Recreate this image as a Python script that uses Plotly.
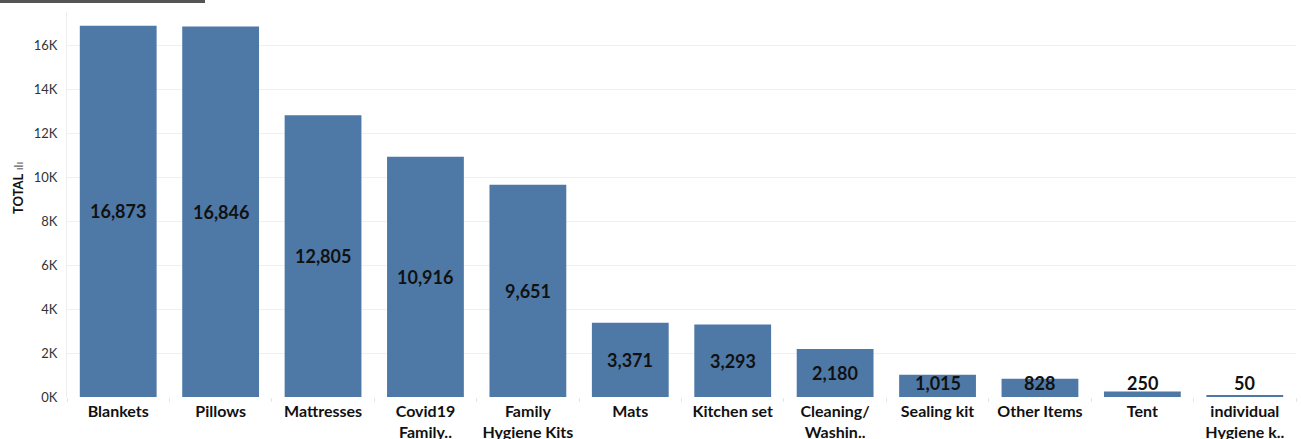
import plotly.graph_objects as go

categories = ["Blankets", "Pillows", "Mattresses", "Covid19<br>Family..", "Family<br>Hygiene Kits",
              "Mats", "Kitchen set", "Cleaning/<br>Washin..", "Sealing kit", "Other Items",
              "Tent", "individual<br>Hygiene k.."]
totals = [16873, 16846, 12805, 10916, 9651, 3371, 3293, 2180, 1015, 828, 250, 50]
y_tick_vals = [0, 2000, 4000, 6000, 8000, 10000, 12000, 14000, 16000]
y_tick_text = ["0K", "2K", "4K", "6K", "8K", "10K", "12K", "14K", "16K"]
y_title = "TOTAL"

BAR = "#4e79a7"
FONT = "Lato"

fig = go.Figure()
fig.add_trace(go.Bar(x=categories, y=totals, marker=dict(color=BAR, line=dict(width=0)),
                     hoverinfo="x+y"))

for c, v in zip(categories, totals):
    fig.add_annotation(x=c, y=max(v / 2, 650), text=f"<b>{v:,}</b>", showarrow=False,
                       font=dict(family=FONT, size=18, color="#111111"), xref="x", yref="y")

# rotated axis title with sort glyph
fig.add_annotation(xref="paper", yref="paper", x=(18 - 67) / 1229, y=(397 - 188) / 385,
                   text=f"<b>{y_title}</b> <span style='font-size:12px;color:#666'>ılı</span>",
                   textangle=-90, showarrow=False, xanchor="center", yanchor="middle",
                   font=dict(family=FONT, size=13, color="#111111"))

fig.update_layout(
    width=1301, height=439,
    margin=dict(l=67, r=5, t=12, b=42),
    plot_bgcolor="white", paper_bgcolor="white",
    bargap=0.25, showlegend=False,
    font=dict(family=FONT),
    xaxis=dict(
        type="category", automargin=False,
        tickfont=dict(family=FONT, size=16, color="#111111", weight="bold"),
        ticks="outside", tickson="boundaries", ticklen=4, tickcolor="#e6e6e6",
        ticklabelstandoff=3,
        showgrid=False, showline=False, zeroline=False,
    ),
    yaxis=dict(
        range=[0, 17500], automargin=False,
        tickvals=y_tick_vals, ticktext=y_tick_text,
        tickfont=dict(family=FONT, size=13, color="#333333"),
        showgrid=True, gridcolor="#f0f0f0", gridwidth=1,
        zeroline=False, showline=True, linecolor="#eeeeee", linewidth=1,
        ticks="", ticklabelstandoff=6,
    ),
)

fig.add_shape(type="rect", xref="paper", yref="paper",
              x0=-67 / 1229, x1=(205 - 67) / 1229, y0=1 + 9 / 385, y1=1 + 12 / 385,
              fillcolor="#555555", line=dict(width=0), layer="above")

fig.write_html("out.html", config={"displayModeBar": False},
               post_script="document.body.style.margin='0';document.body.style.overflow='hidden';")
